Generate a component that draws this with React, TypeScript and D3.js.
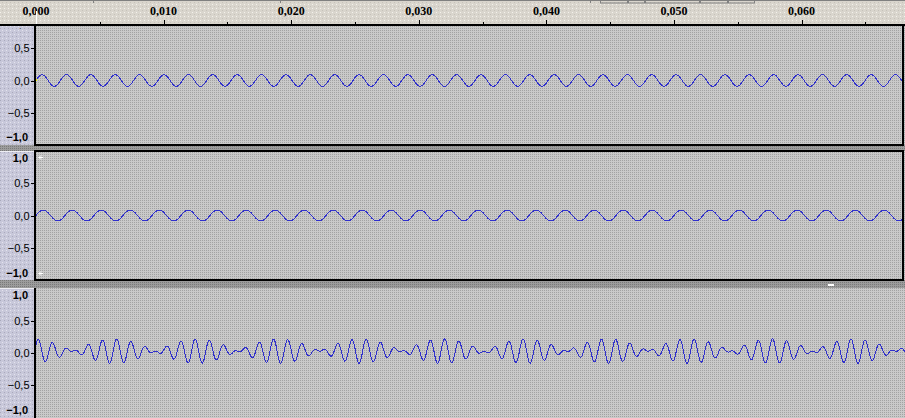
import React from "react";
import * as d3 from "d3";

// ---------- data ----------
const rulerTicks = [0, 0.01, 0.02, 0.03, 0.04, 0.05, 0.06];
const rulerMinorTicks = [0.005, 0.015, 0.025, 0.035, 0.045, 0.055, 0.065];
const amplitudeTicks = [0.5, 0, -0.5];
const amplitudeEdges = [1, -1];

// tone components of each track (Hz, linear amplitude, sine phase in degrees)
const track1Freqs = [523.25];
const track1Amps = [0.09];
const track1Phases = [0];
const track2Freqs = [440];
const track2Amps = [0.085];
const track2Phases = [0];
const track3Freqs = [817.4, 972.6];
const track3Amps = [0.095, 0.095];
const track3Phases = [23.1, 40.9];
const trackOffsets = [0, 0, 0.025];
const sampleRate = 44100;
const duration = 0.0681;

// ---------- layout ----------
const W = 905;
const H = 418;
const trackTops = [16.1, 151, 288.5];
const trackBottoms = [144.9, 280, 417];
const clipTops = [26, 152, 289];
const clipBottoms = [145, 280, 418];
const selected = [true, true, false];
const WAVE = "#3030cc";

const fmtTime = (v: number) => d3.format(".3f")(v).replace(".", ",");
const fmtAmp = (v: number) => d3.format(".1f")(v).replace(".", ",").replace("-0,0", "0,0");

function makeSamples(freqs: number[], amps: number[], phases: number[], offset: number) {
  const ts = d3.range(0, duration, 1 / sampleRate);
  return ts.map((t) => {
    let v = offset;
    freqs.forEach((f, i) => {
      v += amps[i] * Math.sin(2 * Math.PI * f * t + (phases[i] * Math.PI) / 180);
    });
    return [t, v] as [number, number];
  });
}

const trackSamples = [
  makeSamples(track1Freqs, track1Amps, track1Phases, trackOffsets[0]),
  makeSamples(track2Freqs, track2Amps, track2Phases, trackOffsets[1]),
  makeSamples(track3Freqs, track3Amps, track3Phases, trackOffsets[2]),
];

export default function App() {
  const x = d3.scaleLinear().domain([0, 0.06]).range([36, 801.6]);
  const sans = "'Liberation Sans', Arial, sans-serif";
  const serif = "'Liberation Serif', 'Times New Roman', serif";

  return (
    <div style={{ position: "absolute", left: 0, top: 0, width: W, height: H }}>
      <svg width={W} height={H} style={{ display: "block" }}>
        <defs>
          <pattern id="bgDots" width="2" height="2" patternUnits="userSpaceOnUse">
            <rect width="2" height="2" fill="#c9c9c9" />
            <rect width="1" height="1" fill="#a2a2a2" />
          </pattern>
          <pattern id="panelDots" width="4" height="4" patternUnits="userSpaceOnUse">
            <rect width="4" height="4" fill="#c8c8da" />
            <rect width="1" height="1" fill="#a9a9bb" />
            <rect x="2" y="2" width="1" height="1" fill="#e4e4ee" />
          </pattern>
          <pattern id="rulerDots" width="4" height="4" patternUnits="userSpaceOnUse">
            <rect width="4" height="4" fill="#d9d5cd" />
            <rect width="1" height="1" fill="#f4f2ec" />
            <rect x="2" y="2" width="1" height="1" fill="#c6c2ba" />
          </pattern>
          <pattern id="gapDots" width="2" height="2" patternUnits="userSpaceOnUse">
            <rect width="2" height="2" fill="#9c9c9c" />
            <rect width="1" height="1" fill="#7a7a7a" />
          </pattern>
          {trackTops.map((_, i) => (
            <clipPath id={`clip${i}`} key={i}>
              <rect x={36} y={clipTops[i]} width={(selected[i] ? 902 : 905) - 36} height={clipBottoms[i] - clipTops[i]} />
            </clipPath>
          ))}
          {trackTops.map((_, i) => (
            <clipPath id={`pclip${i}`} key={i}>
              <rect x={0} y={clipTops[i] + 2} width={35} height={clipBottoms[i] - clipTops[i] - 2} />
            </clipPath>
          ))}
        </defs>

        {/* gaps between tracks */}
        <rect x={0} y={0} width={W} height={H} fill="url(#gapDots)" />

        {trackTops.map((top, i) => {
          const y = d3.scaleLinear().domain([-1, 1]).range([trackBottoms[i], top]);
          const line = d3
            .line<[number, number]>()
            .x((d) => x(d[0]))
            .y((d) => y(d[1]));
          const ct = clipTops[i];
          const cb = clipBottoms[i];
          return (
            <g key={i}>
              {/* left panel */}
              <rect x={0} y={ct - 1} width={35} height={cb - ct + 1} fill="url(#panelDots)" />
              <line x1={0} x2={34} y1={ct - 0.5} y2={ct - 0.5} stroke="#eeeef4" />
              {/* wave area */}
              <rect x={35} y={ct - 1} width={W - 35} height={cb - ct + 1} fill="url(#bgDots)" />
              <g clipPath={`url(#pclip${i})`}>
                {amplitudeTicks.map((v) => (
                  <g key={v}>
                    <line x1={31} x2={35} y1={Math.round(y(v)) + 0.5} y2={Math.round(y(v)) + 0.5} stroke="#000" />
                    <text
                      x={29.5}
                      y={y(v) + 4}
                      textAnchor="end"
                      fontFamily={sans}
                      fontSize={11}
                      fill="#000"
                    >
                      {fmtAmp(v)}
                    </text>
                  </g>
                ))}
                {amplitudeEdges.map((v) => (
                  <text
                    key={v}
                    x={28}
                    y={v > 0 ? top + 10.5 : trackBottoms[i] - 3.5}
                    textAnchor="end"
                    fontFamily={sans}
                    fontWeight="bold"
                    fontSize={11}
                    fill="#000"
                  >
                    {fmtAmp(v)}
                  </text>
                ))}
              </g>
              {/* waveform */}
              <path
                d={line(trackSamples[i]) || ""}
                fill="none"
                stroke={WAVE}
                strokeWidth={1}
                shapeRendering="crispEdges"
                clipPath={`url(#clip${i})`}
              />
              {/* borders */}
              <line x1={35} x2={35} y1={ct - 1} y2={cb} stroke="#000" strokeWidth={2} />
              {selected[i] && (
                <rect
                  x={35}
                  y={ct - 1}
                  width={903 - 35}
                  height={cb - ct + 1}
                  fill="none"
                  stroke="#000"
                  strokeWidth={2}
                />
              )}
            </g>
          );
        })}

        {/* clip-start markers */}
        <rect x={36} y={79} width={1} height={2} fill="#e8e800" />
        <path d="M43,157.5 H38.5 M41,155.5 L39,157.5 L41,159.5" stroke="#fff" fill="none" strokeWidth={1} />
        <path d="M43,273.5 H38.5 M41,271.5 L39,273.5 L41,275.5" stroke="#fff" fill="none" strokeWidth={1} />
        <rect x={828} y={284} width={6} height={2} fill="#fff" />

        {/* ruler */}
        <rect x={0} y={0} width={W} height={25} fill="url(#rulerDots)" />
        <line x1={0} x2={W} y1={0.5} y2={0.5} stroke="#808080" />
        {[93, 280, 590].map((sx) => (
          <line key={sx} x1={sx + 0.5} x2={sx + 0.5} y1={0} y2={3} stroke="#808080" />
        ))}
        {[600, 628, 645, 700, 728].map((bx, i, arr) => (
          <rect
            key={bx}
            x={bx + 0.5}
            y={-3}
            width={(i < arr.length - 1 ? arr[i + 1] : 755) - bx - 1}
            height={6}
            fill="none"
            stroke="#808080"
          />
        ))}
        {rulerTicks.map((t) => (
          <g key={t}>
            <line x1={Math.round(x(t)) + 0.5} x2={Math.round(x(t)) + 0.5} y1={20} y2={25} stroke="#000" />
            <text
              x={x(t)}
              y={15}
              textAnchor="middle"
              fontFamily={serif}
              fontWeight="bold"
              fontSize={12}
              fill="#000"
            >
              {fmtTime(t)}
            </text>
          </g>
        ))}
        {rulerMinorTicks.map((t) => (
          <line key={t} x1={Math.round(x(t)) + 0.5} x2={Math.round(x(t)) + 0.5} y1={22} y2={25} stroke="#000" />
        ))}
        <line x1={0} x2={W} y1={25} y2={25} stroke="#000" strokeWidth={2} />
        <line x1={36.5} x2={36.5} y1={11} y2={24} stroke="#fff" />
      </svg>
    </div>
  );
}
